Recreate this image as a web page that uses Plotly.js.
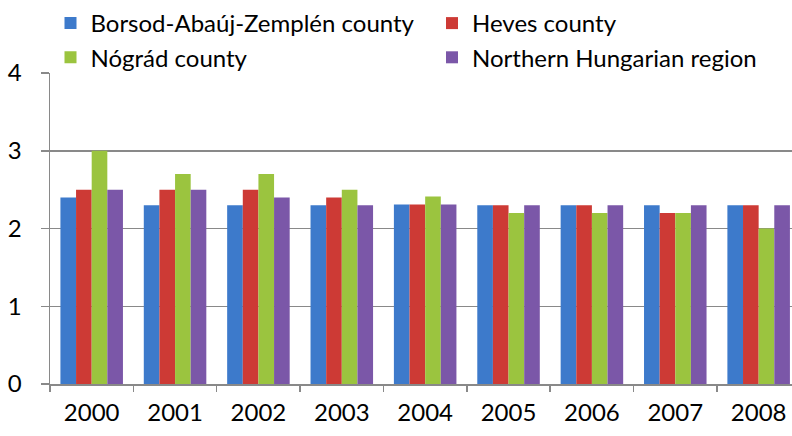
<!DOCTYPE html>
<html><head><meta charset="utf-8">
<script src="https://cdn.plot.ly/plotly-3.0.1.min.js"></script>
<style>html,body{margin:0;padding:0;background:#fff}#c{width:792px;height:436px}</style>
</head><body><div id="c"></div>
<script>
const years = ['2000','2001','2002','2003','2004','2005','2006','2007','2008'];
const seriesNames = ['Borsod-Abaúj-Zemplén county','Heves county','Nógrád county','Northern Hungarian region'];
const borsod = [2.4, 2.3, 2.3, 2.3, 2.31, 2.3, 2.3, 2.3, 2.3];
const heves = [2.5, 2.5, 2.5, 2.4, 2.31, 2.3, 2.3, 2.2, 2.3];
const nograd = [3.0, 2.7, 2.7, 2.5, 2.41, 2.2, 2.2, 2.2, 2.0];
const northern = [2.5, 2.5, 2.4, 2.3, 2.31, 2.3, 2.3, 2.3, 2.3];
const colors = ['#3D7ACB','#CD3A35','#9BC43F','#7B57A8'];
const values = [borsod, heves, nograd, northern];
const legendIds = ['legend','legend2','legend','legend2'];
const font = 'Lato, "Open Sans", sans-serif';
const W = 792, H = 436, ML = 50, MR = 0, MT = 73, MB = 52;
const PW = W - ML - MR, PH = H - MT - MB;
const traces = values.map((v,i)=>({type:'bar', name:seriesNames[i], x:years, y:v,
  marker:{color:colors[i]}, legend:legendIds[i], legendgroup:'g'+i}));
const legendBase = {orientation:'v', yref:'paper', y:(H - MB - 1) / PH, yanchor:'top', xref:'paper', xanchor:'left',
  font:{family:font, size:24, color:'#000'}, tracegroupgap:0, bgcolor:'rgba(0,0,0,0)'};
Plotly.newPlot('c', traces, {
  width:W, height:H,
  margin:{l:ML, r:MR, t:MT, b:MB, autoexpand:false},
  barmode:'group', bargap:0.25, bargroupgap:0,
  paper_bgcolor:'#fff', plot_bgcolor:'#fff',
  font:{family:font, size:24, color:'#000'},
  showlegend:true,
  legend:Object.assign({}, legendBase, {x:(50.5 - ML) / PW}),
  legend2:Object.assign({}, legendBase, {x:(432 - ML) / PW}),
  xaxis:{type:'category', range:[-0.5, 8.4], showgrid:false, showline:true, linecolor:'#898989', linewidth:1.5,
    ticks:'outside', tickson:'boundaries', ticklen:6, tickcolor:'#898989', tickwidth:1.5,
    tickfont:{family:font, size:24, color:'#000'}, ticklabelstandoff:7, fixedrange:true},
  yaxis:{range:[0,4], dtick:1, showgrid:true, gridcolor:'#898989', gridwidth:1.5, zeroline:false,
    showline:true, linecolor:'#898989', linewidth:1.5, ticks:'outside', ticklen:8, tickcolor:'#898989', tickwidth:1.5,
    tickfont:{family:font, size:24, color:'#000'}, ticklabelstandoff:14}
}, {displayModeBar:false, staticPlot:true});
</script></body></html>
